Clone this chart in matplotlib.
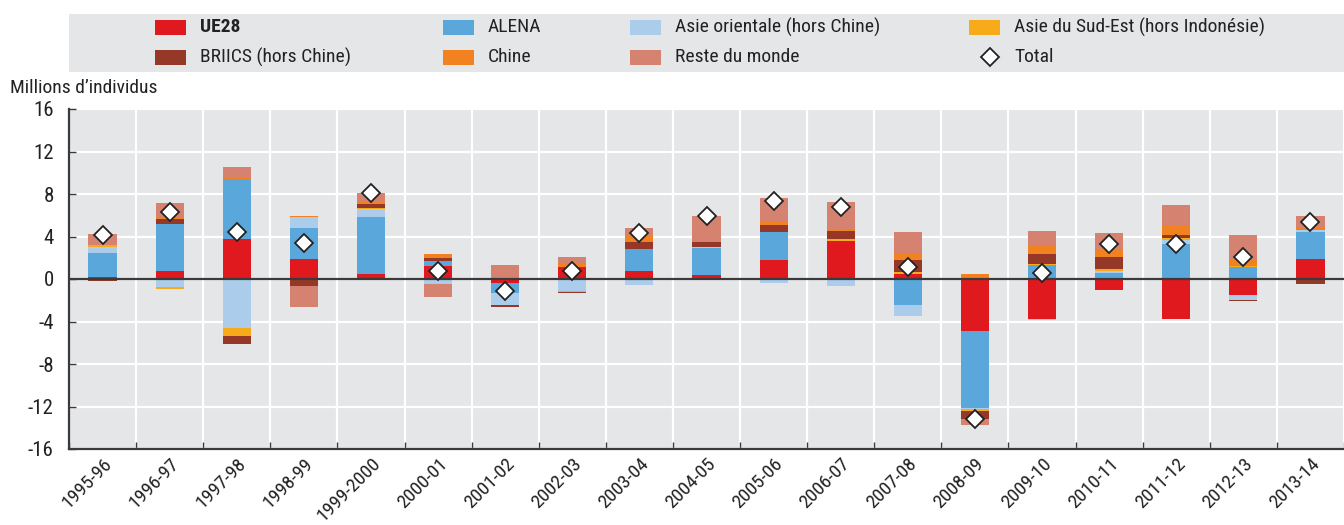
import numpy as np
import matplotlib
matplotlib.use("Agg")
import matplotlib.pyplot as plt
from matplotlib.patches import Rectangle

plt.rcParams['font.family'] = ['Roboto Condensed', 'Archivo Narrow', 'DejaVu Sans']
plt.rcParams['font.stretch'] = 'condensed'
plt.rcParams['axes.unicode_minus'] = False

# -------- DATA (millions d'individus) --------
periods = ['1995-96', '1996-97', '1997-98', '1998-99', '1999-2000', '2000-01',
           '2001-02', '2002-03', '2003-04', '2004-05', '2005-06', '2006-07',
           '2007-08', '2008-09', '2009-10', '2010-11', '2011-12', '2012-13',
           '2013-14']

ue28 = [0.19, 0.78, 3.80, 1.91, 0.44, 1.25, -0.41, 1.16, 0.78, 0.41,
        1.82, 3.61, 0.50, -4.86, -3.73, -1.00, -3.73, -1.47, 1.91]
alena = [2.29, 4.43, 5.64, 2.92, 5.43, 0.48, -0.94, 0.00, 2.07, 2.54,
         2.63, 0.00, -2.42, -7.25, 1.29, 0.60, 3.33, 1.16, 2.54]
asie_or = [0.50, -0.78, -4.58, 0.97, 0.69, -0.44, -1.13, -1.13, -0.53, 0.05,
           -0.41, -0.63, -1.03, -0.10, -0.16, 0.18, 0.37, -0.48, 0.19]
asie_se = [0.19, -0.13, -0.75, 0.00, 0.15, 0.00, 0.00, -0.12, 0.00, 0.00,
           0.00, 0.19, 0.19, -0.25, 0.15, 0.19, 0.19, 0.09, 0.00]
briics = [-0.15, 0.47, -0.76, -0.63, 0.38, 0.28, -0.12, -0.10, 0.66, 0.51,
          0.66, 0.75, 1.13, -0.69, 0.94, 1.13, 0.28, -0.09, -0.44]
chine = [0.00, 0.16, 0.06, 0.16, 0.25, 0.37, 0.15, 0.38, 0.60, 0.00,
         0.29, 0.16, 0.63, 0.50, 0.82, 0.75, 0.85, 0.63, 0.29]
reste = [1.10, 1.34, 1.07, -1.97, 0.79, -1.22, 1.20, 0.56, 0.72, 2.45,
         2.25, 2.57, 2.00, -0.56, 1.35, 1.51, 1.98, 2.29, 1.03]
total = [4.1, 6.3, 4.4, 3.4, 8.1, 0.8, -1.1, 0.8, 4.3, 5.9,
         7.3, 6.8, 1.1, -13.2, 0.6, 3.3, 3.3, 2.1, 5.4]

series = [
    ('UE28', ue28, '#e0191f'),
    ('ALENA', alena, '#5aa7db'),
    ('Asie orientale (hors Chine)', asie_or, '#abcdeb'),
    ('Asie du Sud-Est (hors Indonésie)', asie_se, '#f7ab1b'),
    ('BRIICS (hors Chine)', briics, '#953828'),
    ('Chine', chine, '#f28220'),
    ('Reste du monde', reste, '#d58271'),
]

BG = '#e5e6e8'
DARK = '#3a3a3a'
TXT = '#222222'
FS = 14

fig = plt.figure(figsize=(13.44, 5.25), dpi=100)
W, H = 1344, 525

# -------- MAIN CHART --------
ax = fig.add_axes([69 / W, (H - 449) / H, (W - 69) / W, 340 / H])
ax.set_facecolor(BG)

x = np.arange(len(periods))
pos_bottom = np.zeros(len(periods))
neg_bottom = np.zeros(len(periods))
for name, vals, color in series:
    v = np.array(vals)
    bottom = np.where(v >= 0, pos_bottom, neg_bottom)
    ax.bar(x, v, width=0.42, bottom=bottom, color=color, linewidth=0, zorder=3)
    pos_bottom += np.where(v > 0, v, 0)
    neg_bottom += np.where(v < 0, v, 0)

ax.axhline(0, color=DARK, linewidth=1.6, zorder=4)

ax.plot(x, total, linestyle='none', marker='D', markersize=9.5,
        markerfacecolor='white', markeredgecolor=TXT,
        markeredgewidth=1.3, zorder=5)

ax.set_xlim(-0.5, len(periods) - 0.5)
ax.set_ylim(-16, 16)
ax.set_yticks(np.arange(-16, 17, 4))
ax.set_xticks(np.arange(-0.5, len(periods), 1))
ax.set_xticklabels([])
ax.set_xticks(x, periods, minor=True)

ax.grid(True, which='major', color='white', linewidth=1.6, zorder=1)
ax.set_axisbelow(True)

ax.tick_params(axis='both', which='major', direction='in', length=5,
               width=1, color=DARK, labelsize=FS + 1, labelcolor=TXT)
ax.tick_params(axis='y', pad=11)
ax.tick_params(axis='x', which='minor', length=0, labelsize=FS,
               labelcolor=TXT, pad=4)
for lab in ax.get_xticklabels(minor=True):
    lab.set_rotation(45)
    lab.set_ha('right')
    lab.set_rotation_mode('anchor')

for s in ['top', 'right']:
    ax.spines[s].set_visible(False)
for s in ['left', 'bottom']:
    ax.spines[s].set_color(DARK)
    ax.spines[s].set_linewidth(1.6)

fig.text(10 / W, 1 - 88 / H, 'Millions d\u2019individus', fontsize=FS,
         color=TXT, va='center', ha='left')

# -------- LEGEND --------
lax = fig.add_axes([69 / W, 1 - 72 / H, (W - 69) / W, 58 / H])
lax.set_facecolor(BG)
lax.set_xlim(69, W)
lax.set_ylim(72, 14)
lax.set_xticks([])
lax.set_yticks([])
for s in lax.spines.values():
    s.set_visible(False)

col_x = [155, 443, 630, 969]
row_y = [27, 57]
slots = [(0, 0), (1, 0), (2, 0), (3, 0), (0, 1), (1, 1), (2, 1)]
for (c, r), (name, vals, color) in zip(slots, series):
    lax.add_patch(Rectangle((col_x[c], row_y[r] - 7.5), 31, 15,
                            facecolor=color, linewidth=0))
    lax.text(col_x[c] + 45, row_y[r], name, fontsize=FS, color=TXT,
             va='center', ha='left',
             fontweight='bold' if name == 'UE28' else 'normal')

lax.plot([990], [row_y[1]], linestyle='none', marker='D', markersize=9.5,
         markerfacecolor='white', markeredgecolor=TXT,
         markeredgewidth=1.3)
lax.text(col_x[3] + 45, row_y[1], 'Total', fontsize=FS, color=TXT,
         va='center', ha='left')

fig.savefig('out.png', dpi=100)
